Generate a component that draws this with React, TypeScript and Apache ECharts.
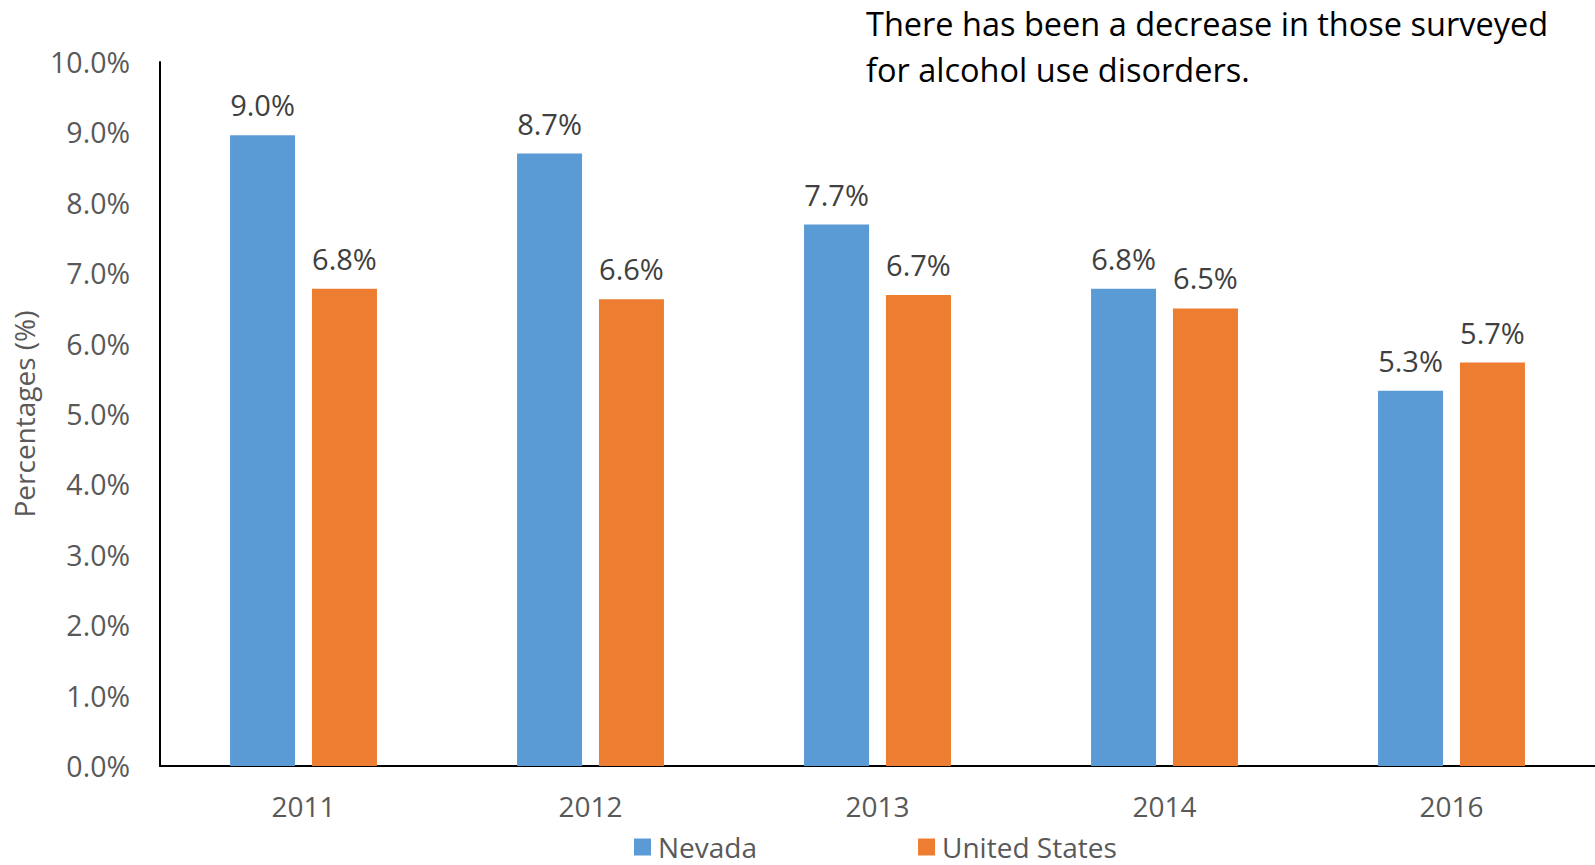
import React, { useEffect, useRef } from "react";
import * as echarts from "echarts";

const years = ["2011", "2012", "2013", "2014", "2016"];
const nevada = [8.96, 8.7, 7.69, 6.78, 5.33];
const unitedStates = [6.78, 6.63, 6.69, 6.5, 5.73];
const yTicks = { min: 0, max: 10, interval: 1 };
const titleLines = ["There has been a decrease in those surveyed", "for alcohol use disorders."];

const FONT = "'Open Sans', 'Noto Sans', sans-serif";

export default function App() {
  const ref = useRef<HTMLDivElement>(null);
  useEffect(() => {
    document.body.style.margin = "0";
    const chart = echarts.init(ref.current!, null, { renderer: "svg" });
    const labelCfg = {
      show: true,
      position: "top" as const,
      distance: 16,
      color: "#404040",
      fontSize: 29,
      lineHeight: 29,
      fontFamily: FONT,
      formatter: (p: any) => Number(p.value).toFixed(1) + "%",
    };
    chart.setOption({
      animation: false,
      backgroundColor: "#ffffff",
      textStyle: { fontFamily: FONT },
      title: {
        text: titleLines.join("\n"),
        left: 866,
        top: 0,
        padding: 0,
        textStyle: { fontFamily: FONT, fontSize: 32.5, fontWeight: "normal", color: "#000000", lineHeight: 46 },
      },
      legend: {
        data: ["Nevada", "United States"],
        left: 634,
        top: 833,
        padding: 0,
        itemWidth: 17,
        itemHeight: 17,
        itemGap: 161,
        icon: "rect",
        textStyle: { fontFamily: FONT, fontSize: 28, color: "#595959", padding: [0, 0, 0, 2] },
      },
      grid: { left: 160, right: 0, top: 62, bottom: 99, containLabel: false, outerBoundsMode: "none" },
      xAxis: {
        type: "category",
        data: years,
        axisLine: { lineStyle: { color: "#000000", width: 2 } },
        axisTick: { show: false },
        axisLabel: { color: "#595959", fontSize: 28, fontFamily: FONT, margin: 26 },
      },
      yAxis: {
        type: "value",
        min: yTicks.min,
        max: yTicks.max,
        interval: yTicks.interval,
        name: "Percentages (%)",
        nameLocation: "middle",
        nameGap: 122,
        nameRotate: 90,
        nameTextStyle: { color: "#595959", fontSize: 28, fontFamily: FONT },
        axisLine: { show: true, lineStyle: { color: "#000000", width: 2 } },
        axisTick: { show: false },
        splitLine: { show: false },
        axisLabel: {
          color: "#595959",
          fontSize: 28.5,
          fontFamily: FONT,
          margin: 30,
          formatter: (v: number) => v.toFixed(1) + "%",
        },
      },
      series: [
        {
          name: "Nevada",
          type: "bar",
          data: nevada,
          barWidth: 65,
          barGap: "26%",
          itemStyle: { color: "#5B9BD5" },
          label: labelCfg,
        },
        {
          name: "United States",
          type: "bar",
          data: unitedStates,
          barWidth: 65,
          barGap: "26%",
          itemStyle: { color: "#ED7D31" },
          label: labelCfg,
        },
      ],
    });
    return () => chart.dispose();
  }, []);
  return <div ref={ref} style={{ position: "absolute", left: 0, top: 0, width: 1595, height: 865 }} />;
}
